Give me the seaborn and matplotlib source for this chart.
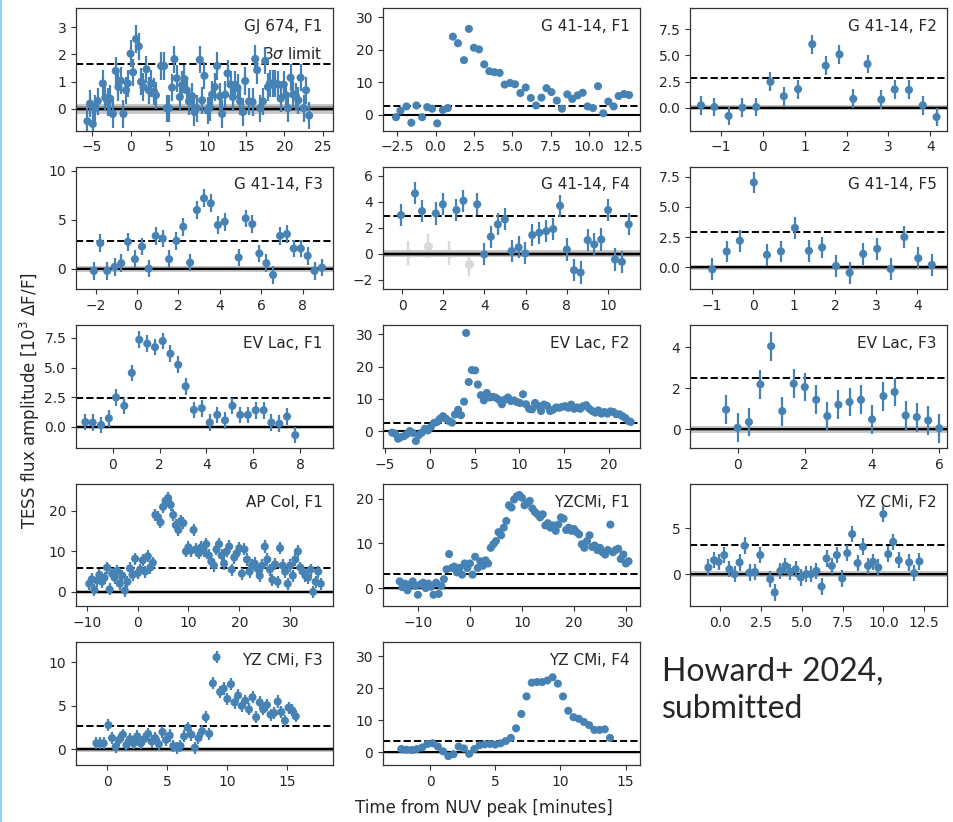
import numpy as np
import pandas as pd
import seaborn as sns
import matplotlib.pyplot as plt
from matplotlib.ticker import MultipleLocator
from matplotlib.lines import Line2D
from matplotlib.transforms import blended_transform_factory

# ------------------------ DATA ------------------------
gj674_t = [-5.6, -5.26, -4.9, -4.6, -4.26, -3.6, -3.27, -2.96, -2.65, -2.3,
           -1.92, -1.57, -1.27, -0.92, -0.58, -0.36, 0.0, 0.33, 0.72, 1.07,
           1.37, 1.68, 2.07, 2.37, 2.68, 3.06, 3.3, 3.97, 4.36, 4.7,
           5.0, 5.4, 5.7, 6.0, 6.4, 6.7, 7.0, 7.3, 7.6, 8.0,
           8.3, 8.6, 9.0, 9.3, 9.6, 10.0, 10.3, 10.6, 10.95, 11.25,
           11.6, 11.9, 12.3, 12.6, 13.0, 13.3, 13.6, 13.9, 14.25, 14.6,
           14.9, 15.4, 15.85, 16.2, 16.45, 16.85, 17.2, 17.5, 17.85, 18.1,
           18.5, 18.8, 19.2, 19.5, 19.9, 20.2, 20.45, 20.8, 21.15, 21.5,
           21.8, 22.1, 22.5, 22.8, 23.2]
gj674_f = [-0.46, 0.19, -0.56, 0.02, 0.28, 0.93, 0.4, 0.25, 0.37, -0.19,
           1.39, 0.8, 1.03, -0.19, 0.68, 0.93, 2.02, 1.34, 2.56, 2.29,
           0.99, 0.8, 1.45, 0.68, 0.93, 0.62, 0.5, 1.57, 1.57, 0.02,
           0.02, 0.78, 1.82, 1.12, 0.43, 0.87, 1.09, 0.68, 0.27, 0.46,
           -0.12, 0.02, 1.8, 0.31, 1.21, -0.06, 0.06, 0.52, 0.8, 1.57,
           0.46, -0.19, 0.52, 1.3, 0.89, 0.43, 0.87, 0.77, 0.27, -0.12,
           1.02, 0.27, 0.25, 1.83, 1.42, 0.02, 0.27, 1.76, 0.8, 0.93,
           0.93, 0.93, 0.89, 0.37, 0.89, 0.5, 0.02, 1.14, 0.52, 0.46,
           0.31, 1.14, 0.02, 0.68, -0.25]

g41_f1_t = [-2.57, -2.28, -1.89, -1.57, -1.24, -0.87, -0.54, -0.22, 0.11, 0.48,
            0.8, 1.13, 1.46, 1.85, 2.17, 2.5, 2.83, 3.17, 3.5, 3.83,
            4.17, 4.5, 4.85, 5.17, 5.52, 5.87, 6.2, 6.54, 6.89, 7.22,
            7.54, 7.89, 8.22, 8.57, 8.89, 9.24, 9.57, 9.89, 10.24, 10.57,
            10.91, 11.24, 11.59, 11.91, 12.26, 12.59]
g41_f1_f = [-0.7, 1.3, 2.6, -2.4, 2.9, -0.7, 2.4, 1.9, -2.6, 1.5,
            2.1, 24.0, 22.0, 16.8, 26.4, 20.6, 20.1, 15.5, 13.4, 13.1,
            12.9, 9.3, 9.8, 9.4, 6.7, 8.4, 5.2, 2.9, 5.3, 8.2,
            7.0, 4.4, 1.9, 6.3, 4.9, 6.0, 6.8, 2.6, 2.1, 8.8,
            0.5, 4.1, 2.6, 5.8, 6.4, 6.1]

g41_f2_t = [-1.48, -1.16, -0.82, -0.49, -0.16, 0.18, 0.5, 0.84, 1.18, 1.5,
            1.83, 2.16, 2.5, 2.83, 3.15, 3.49, 3.82, 4.15]
g41_f2_f = [0.22, 0.06, -0.8, 0.0, 0.06, 2.47, 1.09, 1.77, 6.08, 4.02,
            5.1, 0.84, 4.18, 0.77, 1.74, 1.7, 0.22, -0.9]

g41_f3_t = [-2.08, -1.77, -1.44, -1.08, -0.76, -0.44, -0.1, 0.24, 0.56, 0.9,
            1.24, 1.55, 1.9, 2.23, 2.56, 2.89, 3.23, 3.56, 3.9, 4.23,
            4.9, 5.24, 5.56, 5.9, 6.24, 6.56, 6.9, 7.23, 7.56, 7.9,
            8.23, 8.56, 8.92]
g41_f3_f = [-0.24, 2.6, -0.24, 0.17, 0.55, 2.73, 0.96, 2.25, 0.0, 3.34,
            3.07, 0.96, 2.83, 4.27, 0.61, 5.97, 7.17, 6.66, 4.44, 4.78,
            1.13, 5.12, 4.54, 1.54, 0.55, -0.65, 3.34, 3.52, 2.05, 2.05,
            1.3, -0.24, 0.1]

g41_f4_t = [-0.05, 0.63, 0.97, 1.64, 1.98, 2.64, 2.98, 3.65, 3.99, 4.31,
            4.65, 4.99, 5.32, 5.66, 5.98, 6.32, 6.66, 7.0, 7.34, 7.67,
            8.0, 8.35, 8.67, 9.01, 9.33, 9.67, 10.0, 10.34, 10.67, 11.0]
g41_f4_f = [2.97, 4.64, 3.28, 3.1, 3.8, 3.36, 4.08, 3.8, -0.05, 1.31,
            2.26, 2.64, 0.21, 0.49, 0.03, 1.44, 1.62, 1.74, 1.9, 3.69,
            0.33, -1.26, -1.44, 1.05, 0.72, 1.1, 3.36, -0.44, -0.62, 2.26]
g41_f4_masked_t = [0.28, 1.26, 2.27, 3.26]
g41_f4_masked_f = [0.05, 0.59, 0.05, -0.82]

g41_f5_t = [-0.99, -0.64, -0.32, 0.02, 0.34, 0.68, 1.02, 1.36, 1.68, 2.02,
            2.35, 2.68, 3.02, 3.35, 3.68, 4.02, 4.35]
g41_f5_f = [-0.17, 1.31, 2.2, 7.02, 1.03, 1.31, 3.26, 1.36, 1.64, 0.11,
            -0.45, 1.11, 1.53, -0.14, 2.5, 0.75, 0.2]

evlac_f1_t = [-1.17, -0.86, -0.5, -0.17, 0.14, 0.49, 0.81, 1.13, 1.47, 1.8,
              2.13, 2.46, 2.79, 3.11, 3.46, 3.8, 4.14, 4.46, 4.79, 5.11,
              5.44, 5.77, 6.1, 6.44, 6.77, 7.11, 7.44, 7.79]
evlac_f1_f = [0.42, 0.37, 0.17, 0.73, 2.49, 1.78, 4.55, 7.34, 7.01, 6.72,
              7.23, 6.16, 5.23, 3.42, 1.44, 1.58, 0.37, 1.02, 0.56, 1.78,
              1.02, 1.02, 1.41, 1.41, 0.37, 0.28, 0.88, -0.68]

evlac_f2_t = [-4.23, -3.9, -3.56, -3.26, -2.9, -2.6, -2.25, -1.9, -1.57, -1.24,
              -0.9, -0.56, -0.22, 0.1, 0.45, 0.79, 1.12, 1.46, 1.8, 2.13,
              2.47, 2.8, 3.15, 3.48, 3.82, 4.05, 4.34, 4.68, 5.06, 5.36,
              5.7, 6.03, 6.37, 6.7, 7.04, 7.38, 7.72, 8.05, 8.39, 8.73,
              9.06, 9.4, 9.74, 10.07, 10.41, 10.75, 11.09, 11.42, 11.76, 12.1,
              12.43, 12.77, 13.1, 13.44, 13.78, 14.12, 14.46, 14.79, 15.13, 15.47,
              15.8, 16.14, 16.48, 16.82, 17.15, 17.49, 17.83, 18.17, 18.5, 18.84,
              19.18, 19.5, 19.85, 20.19, 20.52, 20.86, 21.2, 21.54, 21.87, 22.2,
              22.47]
evlac_f2_f = [-0.5, -0.8, -2.4, -1.9, -1.6, -1.0, 0.0, -0.6, -3.1, -1.3,
              -0.5, 0.7, 0.2, 1.2, 2.5, 2.8, 3.8, 4.6, 3.8, 3.1,
              2.6, 5.1, 6.6, 4.9, 9.1, 30.4, 15.2, 18.9, 18.8, 14.4,
              11.1, 9.5, 11.8, 10.4, 10.6, 10.3, 9.7, 8.3, 9.7, 10.4,
              9.3, 9.5, 9.0, 8.7, 11.4, 8.3, 6.9, 6.7, 8.7, 7.8,
              6.2, 8.2, 7.8, 6.2, 6.6, 7.3, 7.2, 7.5, 7.7, 7.2,
              8.2, 6.9, 7.3, 6.9, 7.7, 8.0, 6.9, 6.2, 5.7, 6.4,
              5.4, 5.9, 5.4, 6.1, 5.9, 5.2, 5.2, 4.6, 4.0, 3.1,
              2.8]

evlac_f3_t = [-0.34, 0.0, 0.34, 0.68, 1.0, 1.33, 1.67, 2.0, 2.34, 2.67,
              3.0, 3.33, 3.67, 4.0, 4.34, 4.67, 5.0, 5.33, 5.67, 6.0]
evlac_f3_f = [0.96, 0.08, 0.36, 2.19, 4.04, 0.89, 2.22, 2.06, 1.44, 0.65,
              1.2, 1.33, 1.44, 0.49, 1.62, 1.82, 0.68, 0.6, 0.44, 0.06]

apcol_t = [-9.5, -9.0, -8.5, -8.0, -7.5, -7.0, -6.5, -6.0, -5.5, -5.0,
           -4.5, -4.0, -3.5, -3.0, -2.5, -2.0, -1.5, -1.0, -0.5, 0.0,
           0.5, 1.0, 1.5, 2.0, 2.5, 3.0, 3.5, 4.0, 4.5, 5.0,
           5.5, 6.0, 6.5, 7.0, 7.5, 8.0, 8.5, 9.0, 9.5, 10.0,
           10.5, 11.0, 11.5, 12.0, 12.5, 13.0, 13.5, 14.0, 14.5, 15.0,
           15.5, 16.0, 16.5, 17.0, 17.5, 18.0, 18.5, 19.0, 19.5, 20.0,
           20.5, 21.0, 21.5, 22.0, 22.5, 23.0, 23.5, 24.0, 24.5, 25.0,
           25.5, 26.0, 26.5, 27.0, 27.5, 28.0, 28.5, 29.0, 29.5, 30.0,
           30.5, 31.0, 31.5, 32.0, 32.5, 33.0, 33.5, 34.0, 34.5, 35.0,
           35.5, 36.0]
apcol_f = [2.0, 3.1, 0.5, 2.8, 4.2, 2.5, 3.5, 6.0, 0.6, 4.5,
           3.5, 5.2, 2.0, 4.0, 0.3, 2.5, 5.8, 4.2, 8.2, 4.6,
           5.5, 7.8, 5.0, 8.8, 6.0, 7.2, 19.0, 18.5, 17.2, 21.0,
           22.5, 23.2, 21.5, 19.0, 16.5, 15.3, 17.5, 17.0, 10.0, 11.0,
           10.2, 15.3, 10.5, 9.5, 11.0, 10.2, 11.8, 9.0, 7.5, 6.5,
           10.5, 11.8, 9.0, 7.0, 10.0, 11.2, 5.5, 8.5, 9.5, 10.8,
           4.5, 10.5, 8.0, 5.0, 6.5, 7.0, 5.8, 4.0, 6.5, 11.2,
           8.0, 5.5, 3.0, 6.8, 2.5, 10.8, 6.5, 5.0, 2.0, 6.5,
           4.0, 8.0, 10.0, 6.0, 5.0, 4.0, 3.5, 5.5, 0.0, 2.5,
           5.0, 2.0]

yzcmi_f1_t = [-13.5, -13.0, -12.5, -12.0, -11.5, -11.0, -10.5, -10.0, -9.5, -9.0,
              -8.5, -8.0, -7.5, -7.0, -6.5, -6.0, -5.5, -5.0, -4.5, -4.0,
              -3.5, -3.0, -2.5, -2.0, -1.5, -1.0, -0.5, 0.0, 0.5, 1.0,
              1.5, 2.0, 2.5, 3.0, 3.5, 4.0, 4.5, 5.0, 5.5, 6.0,
              6.5, 7.0, 7.5, 8.0, 8.5, 9.0, 9.5, 10.0, 10.5, 11.0,
              11.5, 12.0, 12.5, 13.0, 13.5, 14.0, 14.5, 15.0, 15.5, 16.0,
              16.5, 17.0, 17.5, 18.0, 18.5, 19.0, 19.5, 20.0, 20.5, 21.0,
              21.5, 22.0, 22.5, 23.0, 23.5, 24.0, 24.5, 25.0, 25.5, 26.0,
              26.5, 27.0, 27.5, 28.0, 28.5, 29.0, 29.5, 30.0, 30.5]
yzcmi_f1_f = [1.5, 0.2, 1.0, -0.5, 0.8, 1.5, 0.5, -1.5, 0.8, 1.2,
              0.0, 1.0, 0.3, -1.5, 1.2, -1.3, 0.5, 2.0, 4.2, 7.6,
              4.5, 4.8, 3.5, 4.5, 3.0, 5.5, 4.5, 5.5, 3.0, 7.0,
              4.5, 6.0, 5.0, 6.2, 5.5, 9.0, 9.8, 10.5, 12.5, 11.8,
              13.5, 15.0, 18.5, 18.0, 19.8, 20.5, 20.8, 20.2, 18.5, 19.0,
              19.5, 17.8, 17.0, 16.5, 15.8, 16.5, 14.0, 14.5, 13.5, 14.0,
              12.8, 14.2, 15.8, 15.5, 13.0, 13.5, 12.8, 13.2, 12.5, 12.0,
              9.8, 9.0, 10.5, 11.8, 9.2, 9.5, 8.5, 9.0, 8.0, 7.5,
              8.5, 14.2, 8.0, 8.5, 8.8, 6.5, 7.5, 5.5, 6.0]

yzcmi_f2_t = [-0.72, -0.37, -0.1, 0.25, 0.57, 0.88, 1.19, 1.5, 1.8, 2.13,
              2.46, 3.07, 3.34, 3.69, 4.0, 4.3, 4.63, 4.94, 5.27, 5.57,
              5.9, 6.21, 6.52, 6.84, 7.15, 7.48, 7.79, 8.09, 8.42, 8.75,
              9.06, 9.36, 9.69, 10.0, 10.3, 10.6, 10.94, 11.58, 11.89, 12.21]
yzcmi_f2_f = [0.72, 1.52, 1.34, 2.07, 0.54, 0.0, 1.27, 3.08, 0.18, 0.25,
              2.07, -0.54, -1.99, 0.36, 0.9, 0.25, 0.54, -0.36, 0.0, 0.0,
              0.36, -1.34, 1.7, 0.9, 2.07, -0.47, 2.28, 4.35, 1.2, 2.97,
              0.9, 1.34, 0.72, 6.52, 2.17, 3.51, 1.52, 1.27, 0.11, 1.38]

yzcmi_f3_t = [-0.9, -0.6, -0.3, 0.1, 0.4, 0.7, 1.0, 1.3, 1.6, 1.9,
              2.2, 2.5, 2.8, 3.1, 3.4, 3.7, 4.0, 4.3, 4.6, 4.9,
              5.2, 5.5, 5.8, 6.1, 6.4, 6.7, 7.0, 7.3, 7.6, 7.9,
              8.2, 8.5, 8.8, 9.1, 9.4, 9.7, 10.0, 10.3, 10.6, 10.9,
              11.2, 11.5, 11.8, 12.1, 12.4, 12.7, 13.0, 13.3, 13.6, 13.9,
              14.2, 14.5, 14.8, 15.1, 15.4, 15.7]
yzcmi_f3_f = [0.7, 0.7, 0.7, 2.8, 1.3, 0.3, 1.1, 1.7, 0.5, 1.2,
              0.7, 1.5, 0.7, 1.2, 1.8, 0.9, 1.3, 0.6, 2.0, 1.1,
              1.6, 0.4, 0.2, 0.4, 1.5, 2.5, 1.7, 0.2, 1.3, 2.1,
              3.7, 1.8, 7.6, 10.6, 6.6, 7.0, 5.8, 7.5, 5.4, 6.2,
              5.0, 5.6, 4.6, 6.0, 3.7, 5.4, 4.6, 5.1, 4.0, 4.2,
              5.5, 4.3, 3.3, 4.8, 4.5, 3.8]

yzcmi_f4_t = [-2.2, -1.8, -1.4, -1.0, -0.6, -0.2, 0.2, 0.6, 1.0, 1.4,
              1.8, 2.2, 2.6, 3.0, 3.4, 3.8, 4.2, 4.6, 5.0, 5.4,
              5.8, 6.2, 6.6, 7.0, 7.4, 7.8, 8.2, 8.6, 9.0, 9.4,
              9.8, 10.2, 10.6, 11.0, 11.4, 11.8, 12.2, 12.6, 13.0, 13.4,
              13.8]
yzcmi_f4_f = [1.0, 0.8, 0.7, 1.0, 1.5, 2.6, 2.8, 1.8, 0.3, -1.2,
              -0.6, 1.8, 1.2, -0.5, 1.0, 2.2, 2.5, 2.6, 2.4, 2.8,
              3.5, 4.5, 7.5, 12.0, 17.5, 21.8, 22.0, 22.0, 22.5, 23.5,
              21.5, 17.5, 13.0, 11.0, 10.5, 9.5, 8.5, 7.0, 7.0, 7.2,
              4.5]

# per flare: label, 3-sigma limit, 1-sigma noise band, typical error bar
flare_labels = ['GJ 674, F1', 'G 41-14, F1', 'G 41-14, F2', 'G 41-14, F3', 'G 41-14, F4',
                'G 41-14, F5', 'EV Lac, F1', 'EV Lac, F2', 'EV Lac, F3', 'AP Col, F1',
                'YZCMi, F1', 'YZ CMi, F2', 'YZ CMi, F3', 'YZ CMi, F4']
limits = [1.65, 2.8, 2.8, 2.83, 2.9, 2.9, 2.45, 2.5, 2.5, 5.8, 3.2, 3.2, 2.65, 3.4]
noise = [0.18, 0.3, 0.22, 0.3, 0.28, 0.22, 0.16, 0.3, 0.15, 0.45, 0.35, 0.35, 0.28, 0.4]
errs = [0.5, 0, 0.9, 0.9, 0.85, 0.9, 0.7, 0, 0.7, 1.5, 0.7, 0.9, 0.7, 0]

series = [(gj674_t, gj674_f), (g41_f1_t, g41_f1_f), (g41_f2_t, g41_f2_f),
          (g41_f3_t, g41_f3_f), (g41_f4_t, g41_f4_f), (g41_f5_t, g41_f5_f),
          (evlac_f1_t, evlac_f1_f), (evlac_f2_t, evlac_f2_f), (evlac_f3_t, evlac_f3_f),
          (apcol_t, apcol_f), (yzcmi_f1_t, yzcmi_f1_f), (yzcmi_f2_t, yzcmi_f2_f),
          (yzcmi_f3_t, yzcmi_f3_f), (yzcmi_f4_t, yzcmi_f4_f)]

# axis ranges / tick spacing
xlims = [(-7.08, 26.3), (-3.41, 13.3), (-1.74, 4.4), (-2.94, 9.45), (-0.92, 11.55),
         (-1.53, 4.72), (-1.57, 9.4), (-5.24, 23.5), (-1.41, 6.23), (-12.1, 38.4),
         (-16.7, 32.7), (-1.84, 13.9), (-2.6, 18.8), (-3.6, 16.1)]
ylims = [(-0.8, 3.7), (-4.8, 32.8), (-2.2, 9.55), (-2.1, 10.4), (-2.72, 6.7),
         (-1.81, 8.33), (-1.75, 8.56), (-5.2, 32.8), (-0.89, 5.06), (-3.6, 26.7),
         (-4.1, 23.3), (-3.5, 9.8), (-1.8, 12.3), (-4.0, 34.4)]
xsteps = [5, 2.5, 1, 2, 2, 1, 2, 5, 2, 10, 10, 2.5, 5, 5]
ysteps = [1, 10, 2.5, 5, 2, 2.5, 2.5, 10, 2, 10, 10, 5, 5, 10]

BLUE = '#4682b4'

# ------------------------ PLOT ------------------------
sns.set_style('ticks')
plt.rcParams['font.family'] = ['DejaVu Sans']
plt.rcParams['font.size'] = 10
plt.rcParams['axes.edgecolor'] = '0.2'
plt.rcParams['axes.linewidth'] = 0.9

fig, axes = plt.subplots(5, 3, figsize=(9.54, 8.22), dpi=100)
fig.subplots_adjust(left=0.0797, right=0.9927, bottom=0.0693, top=0.9903,
                    wspace=0.195, hspace=0.294)

for i, ax in enumerate(axes.flat):
    if i >= len(series):
        ax.axis('off')
        continue
    t, f = series[i]
    w = noise[i]
    ax.axhspan(-w, w, color='0.78', lw=0, zorder=1)
    ax.axhspan(-w / 2, w / 2, color='0.55', lw=0, zorder=1)
    if i == 4:
        # points left out of the fit
        ax.errorbar(g41_f4_masked_t, g41_f4_masked_f, yerr=0.9, fmt='o', ms=5.5,
                    color='0.85', ecolor='0.85', elinewidth=1.6, zorder=0.5)
    ax.axhline(0, color='k', lw=1.5, zorder=2)
    ax.axhline(limits[i], color='k', ls='--', lw=1.4, zorder=2)
    if errs[i]:
        ax.errorbar(t, f, yerr=errs[i], fmt='none', ecolor=BLUE, elinewidth=1.6, zorder=3)
    sns.scatterplot(x=t, y=f, ax=ax, color=BLUE, s=34, edgecolor='none', zorder=4)
    ax.set_xlim(*xlims[i])
    ax.set_ylim(*ylims[i])
    ax.xaxis.set_major_locator(MultipleLocator(xsteps[i]))
    ax.yaxis.set_major_locator(MultipleLocator(ysteps[i]))
    ax.tick_params(labelsize=10, length=3.5, width=0.8, color='0.2')
    ax.text(0.96, 0.85, flare_labels[i], transform=ax.transAxes, ha='right',
            va='center', fontsize=11, zorder=5)
    if i == 0:
        tr = blended_transform_factory(ax.transAxes, ax.transData)
        ax.text(0.96, limits[i] + 0.08, r'3$\sigma$ limit', transform=tr,
                ha='right', va='bottom', fontsize=11)

fig.text(0.0315, 0.513, r'TESS flux amplitude [10$^3$ $\Delta$F/F]', rotation=90,
         ha='center', va='center', fontsize=12)
fig.text(0.507, 0.017, 'Time from NUV peak [minutes]', ha='center', va='center',
         fontsize=12)
fig.text(0.694, 0.16, 'Howard+ 2024,\nsubmitted', ha='left', va='center',
         fontsize=23, family=['Lato', 'DejaVu Sans'], linespacing=1.3)

# thin slide border on the left edge
fig.add_artist(Line2D([0.0015, 0.0015], [0, 1], color='#8fd3f4', lw=1.5))

fig.savefig('out.png', dpi=100)
